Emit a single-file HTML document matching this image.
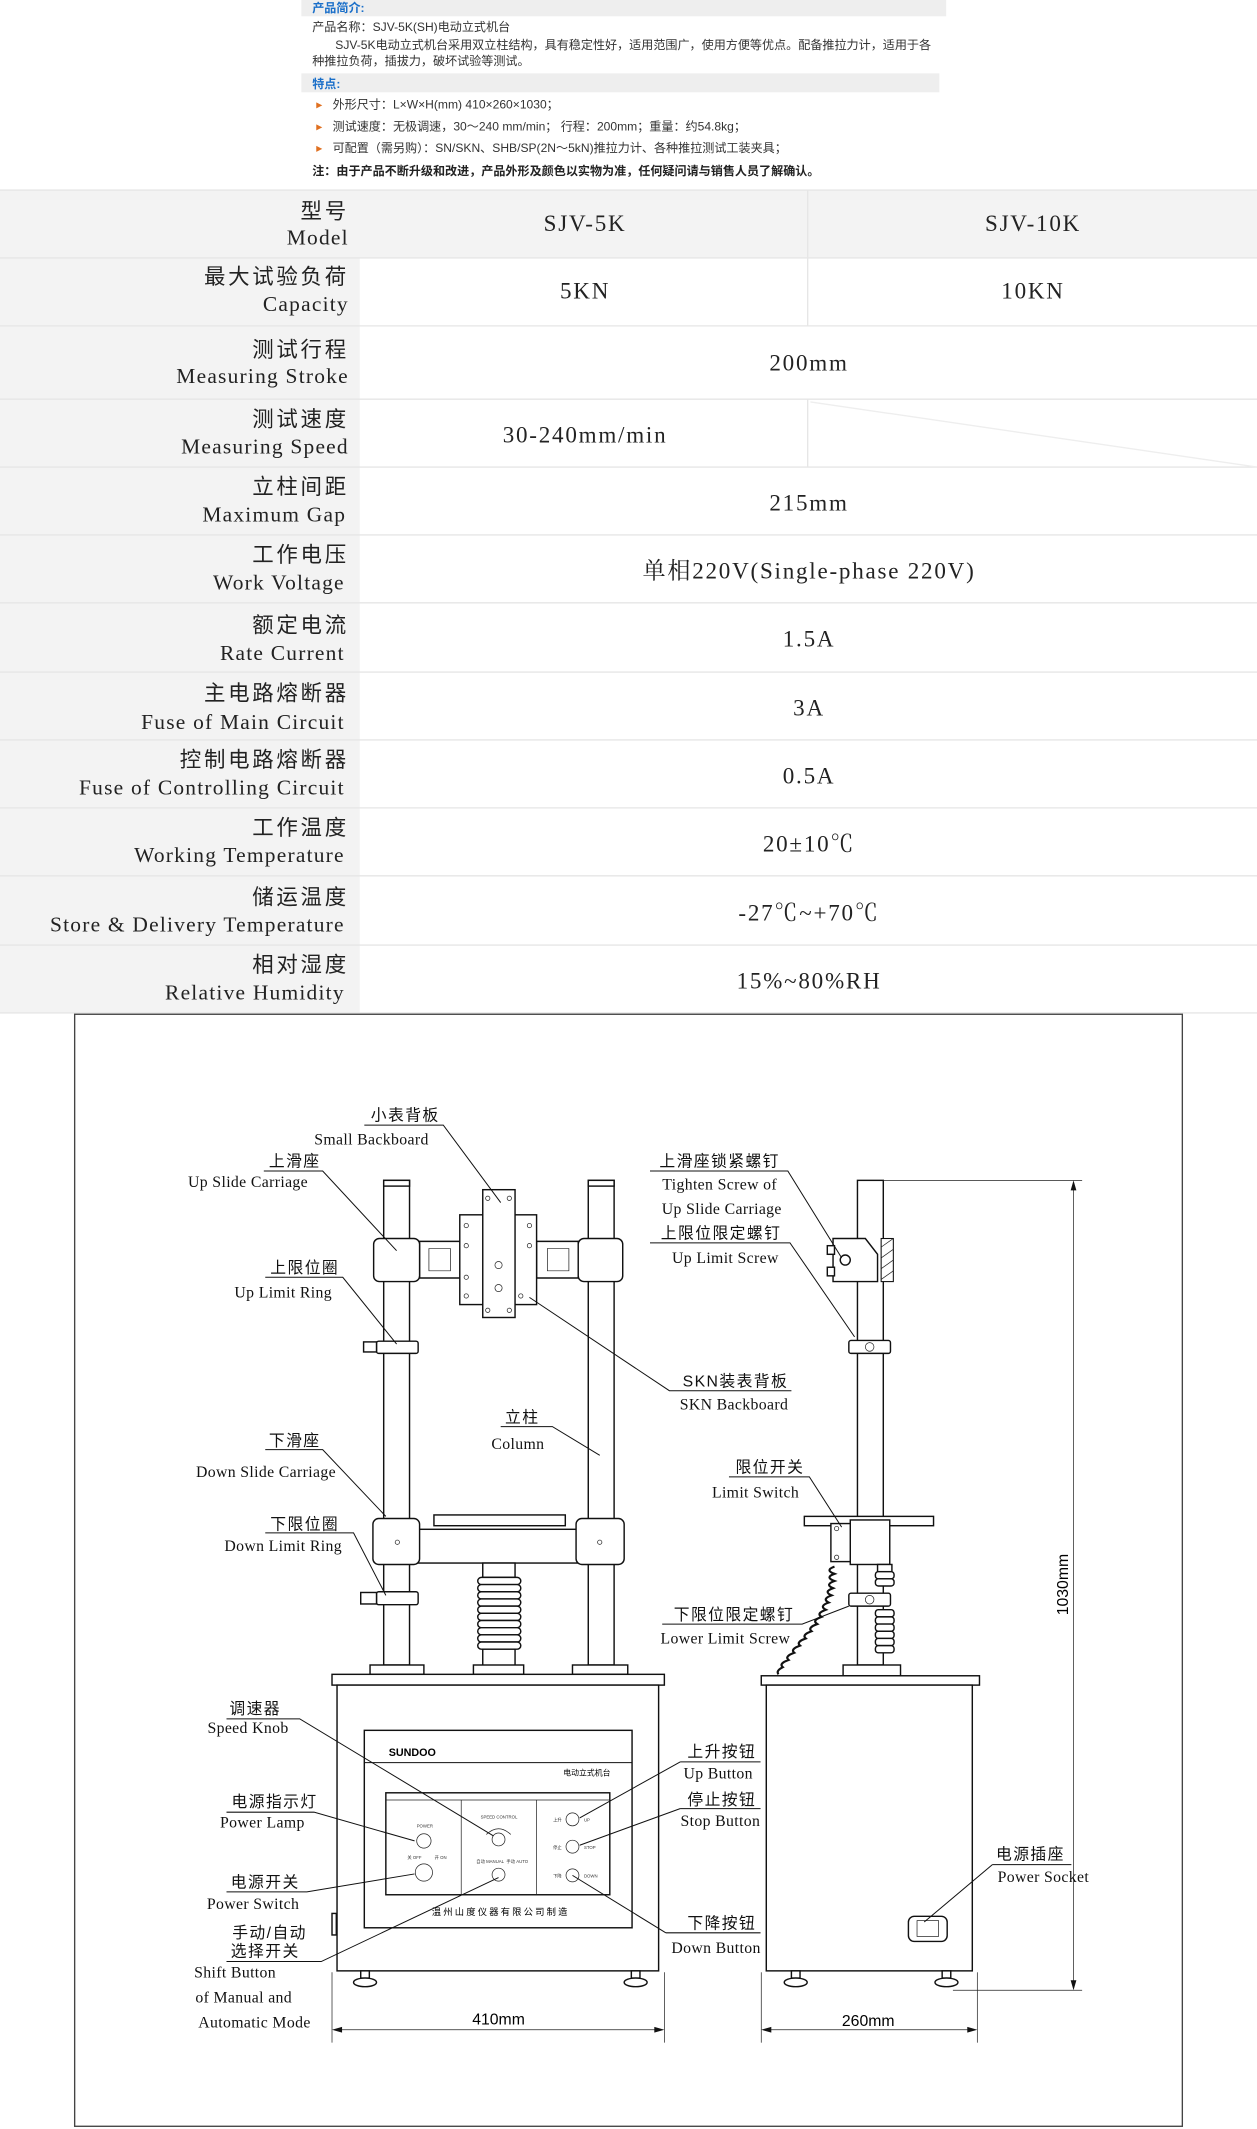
<!DOCTYPE html>
<html><head><meta charset="utf-8"><style>
html,body{margin:0;padding:0;background:#fff;}
svg{display:block;}
.h{font-family:"Liberation Sans","Noto Sans CJK SC",sans-serif;font-size:8.9px;fill:#333;}
.lc{font-family:"Liberation Serif","Noto Sans CJK SC",serif;font-size:15.8px;fill:#222;text-anchor:end;letter-spacing:0.9px;}
.lz{letter-spacing:2px;}
.v{font-family:"Liberation Serif","Noto Serif CJK SC",serif;font-size:17px;fill:#222;text-anchor:middle;letter-spacing:1.3px;}
.zc{font-family:"Liberation Sans","Noto Sans CJK SC",sans-serif;font-size:22px;fill:#111;text-anchor:middle;letter-spacing:2px;}
.ze{font-family:"Liberation Serif",serif;font-size:22px;fill:#111;text-anchor:middle;letter-spacing:0.5px;}
.ln{stroke:#111;stroke-width:1.4;fill:none;}
.d{stroke:#111;stroke-width:2;fill:#fff;}
.t{stroke:#222;stroke-width:1;fill:none;}
</style></head><body>
<svg width="1257" height="2129" viewBox="0 0 926 1568" preserveAspectRatio="none" xmlns="http://www.w3.org/2000/svg">
<rect width="926" height="1568" fill="#fff"/>
<rect x="222" y="0" width="475" height="12" fill="#eeeeee"/>
<text x="230" y="9" class="h" style="fill:#1a6fc9;font-weight:bold">产品简介:</text>
<text x="230" y="23" class="h">产品名称：SJV-5K(SH)电动立式机台</text>
<text x="247" y="36" class="h">SJV-5K电动立式机台采用双立柱结构，具有稳定性好，适用范围广，使用方便等优点。配备推拉力计，适用于各</text>
<text x="230" y="48" class="h">种推拉负荷，插拔力，破坏试验等测试。</text>
<rect x="222" y="54" width="470" height="14" fill="#eeeeee"/>
<text x="230" y="65" class="h" style="fill:#1a6fc9;font-weight:bold">特点:</text>
<g class="h"><text x="233" y="80" style="fill:#e07020">▸</text><text x="245" y="80">外形尺寸：L×W×H(mm) 410×260×1030；</text>
<text x="233" y="96" style="fill:#e07020">▸</text><text x="245" y="96">测试速度：无极调速，30～240 mm/min； 行程：200mm；重量：约54.8kg；</text>
<text x="233" y="112" style="fill:#e07020">▸</text><text x="245" y="112">可配置（需另购）：SN/SKN、SHB/SP(2N～5kN)推拉力计、各种推拉测试工装夹具；</text></g>
<text x="230" y="129" class="h" style="font-weight:bold;fill:#222">注：由于产品不断升级和改进，产品外形及颜色以实物为准，任何疑问请与销售人员了解确认。</text>
<rect x="0" y="140" width="926" height="50" fill="#f3f3f3"/>
<rect x="0" y="140" width="265" height="606" fill="#f3f3f3"/>
<g stroke="#e6e6e6" stroke-width="1">
<line x1="0" y1="140" x2="926" y2="140"/>
<line x1="0" y1="190" x2="926" y2="190"/><line x1="0" y1="240" x2="926" y2="240"/>
<line x1="0" y1="294" x2="926" y2="294"/><line x1="0" y1="344" x2="926" y2="344"/>
<line x1="0" y1="394" x2="926" y2="394"/><line x1="0" y1="444" x2="926" y2="444"/>
<line x1="0" y1="495" x2="926" y2="495"/><line x1="0" y1="545" x2="926" y2="545"/>
<line x1="0" y1="595" x2="926" y2="595"/><line x1="0" y1="645" x2="926" y2="645"/>
<line x1="0" y1="696" x2="926" y2="696"/><line x1="0" y1="746" x2="926" y2="746"/>
<line x1="595" y1="140" x2="595" y2="240"/><line x1="595" y1="294" x2="595" y2="344"/>
<line x1="597" y1="296" x2="926" y2="344" stroke="#eee"/>
</g>
<g class="lc">
<text x="257" y="161" class="lz">型号</text><text x="257" y="180">Model</text>
<text x="257" y="209" class="lz">最大试验负荷</text><text x="257" y="229">Capacity</text>
<text x="257" y="263" class="lz">测试行程</text><text x="257" y="282">Measuring Stroke</text>
<text x="257" y="314" class="lz">测试速度</text><text x="257" y="334">Measuring Speed</text>
<text x="257" y="364" class="lz">立柱间距</text><text x="255" y="384">Maximum Gap</text>
<text x="257" y="414" class="lz">工作电压</text><text x="254" y="434">Work Voltage</text>
<text x="257" y="466" class="lz">额定电流</text><text x="254" y="486">Rate Current</text>
<text x="257" y="516" class="lz">主电路熔断器</text><text x="254" y="537">Fuse of Main Circuit</text>
<text x="257" y="565" class="lz">控制电路熔断器</text><text x="254" y="585">Fuse of Controlling Circuit</text>
<text x="257" y="615" class="lz">工作温度</text><text x="254" y="635">Working Temperature</text>
<text x="257" y="666" class="lz">储运温度</text><text x="254" y="686">Store &amp; Delivery Temperature</text>
<text x="257" y="716" class="lz">相对湿度</text><text x="254" y="736">Relative Humidity</text>
</g>
<g class="v">
<text x="431" y="170">SJV-5K</text><text x="761" y="170">SJV-10K</text>
<text x="431" y="220">5KN</text><text x="761" y="220">10KN</text>
<text x="596" y="273">200mm</text>
<text x="431" y="326">30-240mm/min</text>
<text x="596" y="376">215mm</text>
<text x="596" y="426">单相220V(Single-phase 220V)</text>
<text x="596" y="476">1.5A</text>
<text x="596" y="527">3A</text>
<text x="596" y="577">0.5A</text>
<text x="596" y="627">20±10℃</text>
<text x="596" y="678">-27℃~+70℃</text>
<text x="596" y="728">15%~80%RH</text>
</g>
<rect x="55" y="747" width="816" height="819" fill="#fff" stroke="#444" stroke-width="1"/>
<g transform="translate(51.57,744) scale(0.5288)">
<rect x="437" y="237" width="36" height="675" class="d"/>
<rect x="722" y="237" width="36" height="675" class="d"/>
<rect x="437" y="237" width="36" height="8" class="d"/>
<rect x="722" y="237" width="36" height="8" class="d"/>
<path d="M487 322 H545 V373 H487 Z" class="d"/><path d="M500 332 H530 V363 H500 Z" class="t"/>
<path d="M650 322 H708 V373 H650 Z" class="d"/><path d="M665 332 H695 V363 H665 Z" class="t"/>
<rect x="543" y="285" width="107" height="125" class="d"/>
<rect x="575" y="250" width="45" height="178" class="d"/>
<g class="t"><circle cx="597" cy="355" r="5"/><circle cx="597" cy="387" r="5"/><circle cx="552" cy="300" r="3"/><circle cx="552" cy="328" r="3"/><circle cx="552" cy="372" r="3"/><circle cx="552" cy="398" r="3"/><circle cx="640" cy="300" r="3"/><circle cx="640" cy="328" r="3"/><circle cx="628" cy="398" r="3"/><circle cx="582" cy="262" r="3"/><circle cx="612" cy="262" r="3"/><circle cx="582" cy="418" r="3"/><circle cx="612" cy="418" r="3"/></g>
<rect x="423" y="318" width="64" height="60" rx="8" class="d"/>
<rect x="708" y="318" width="62" height="60" rx="8" class="d"/>
<rect x="427" y="461" width="58" height="17" rx="3" class="d"/><rect x="409" y="462" width="18" height="14" class="d"/>
<rect x="507" y="703" width="183" height="15" class="d"/>
<rect x="477" y="723" width="240" height="47" class="d"/>
<rect x="422" y="708" width="65" height="64" rx="8" class="d"/>
<rect x="705" y="708" width="67" height="64" rx="8" class="d"/>
<circle cx="456" cy="741" r="3" class="t"/><circle cx="738" cy="741" r="3" class="t"/>
<rect x="575" y="770" width="45" height="20" class="d"/>
<g class="d"><rect x="568" y="790" width="60" height="10" rx="5"/><rect x="568" y="800" width="60" height="10" rx="5"/><rect x="568" y="810" width="60" height="10" rx="5"/><rect x="568" y="820" width="60" height="10" rx="5"/><rect x="568" y="830" width="60" height="10" rx="5"/><rect x="568" y="840" width="60" height="10" rx="5"/><rect x="568" y="850" width="60" height="10" rx="5"/><rect x="568" y="860" width="60" height="10" rx="5"/><rect x="568" y="870" width="60" height="10" rx="5"/><rect x="568" y="880" width="60" height="10" rx="5"/></g>
<rect x="575" y="890" width="45" height="25" class="d"/>
<rect x="427" y="810" width="58" height="18" rx="3" class="d"/><rect x="405" y="811" width="22" height="16" class="d"/>
<rect x="418" y="912" width="75" height="13" class="d"/><rect x="700" y="912" width="77" height="13" class="d"/><rect x="562" y="912" width="70" height="13" class="d"/>
<rect x="365" y="925" width="463" height="15" class="d"/>
<rect x="372" y="940" width="448" height="398" class="d"/>
<g class="d"><rect x="405" y="1338" width="12" height="10"/><ellipse cx="411" cy="1354" rx="16" ry="6"/><rect x="782" y="1338" width="12" height="10"/><ellipse cx="788" cy="1354" rx="16" ry="6"/></g>
<rect x="365" y="1258" width="6" height="30" class="d"/>
<rect x="410" y="1003" width="373" height="275" class="d"/>
<line x1="410" y1="1048" x2="783" y2="1048" class="ln"/>
<text x="444" y="1039" style="font-family:'Liberation Sans',sans-serif;font-weight:bold;font-size:15px">SUNDOO</text>
<text x="720" y="1066" style="font-family:'Noto Sans CJK SC',sans-serif;font-size:11px" text-anchor="middle">电动立式机台</text>
<rect x="440" y="1090" width="312" height="142" class="d"/>
<line x1="440" y1="1100" x2="752" y2="1100" class="t"/>
<line x1="545" y1="1100" x2="545" y2="1232" class="t"/><line x1="650" y1="1100" x2="650" y2="1232" class="t"/>
<g class="t"><circle cx="493" cy="1157" r="10"/><circle cx="493" cy="1201" r="12"/><circle cx="597" cy="1155" r="9"/><circle cx="597" cy="1204" r="9"/><circle cx="700" cy="1127" r="9"/><circle cx="700" cy="1165" r="9"/><circle cx="700" cy="1205" r="9"/><path d="M580 1148 Q597 1132 614 1148"/></g>
<g style="font-family:'Liberation Sans','Noto Sans CJK SC',sans-serif;font-size:6px;fill:#333">
<text x="483" y="1138">POWER</text><text x="470" y="1182">关 OFF</text><text x="508" y="1182">开 ON</text>
<text x="572" y="1126">SPEED CONTROL</text><text x="566" y="1188">自动 MANUAL</text><text x="608" y="1188">手动 AUTO</text>
<text x="673" y="1130">上升</text><text x="716" y="1130">UP</text><text x="673" y="1168">停止</text><text x="716" y="1168">STOP</text><text x="673" y="1208">下降</text><text x="716" y="1208">DOWN</text></g>
<text x="600" y="1260" style="font-family:'Noto Sans CJK SC',sans-serif;font-size:13px;letter-spacing:3px" text-anchor="middle">温州山度仪器有限公司制造</text>
<line x1="365" y1="1340" x2="365" y2="1438" class="t"/><line x1="828" y1="1340" x2="828" y2="1438" class="t"/>
<line x1="370" y1="1420" x2="823" y2="1420" class="t"/>
<path d="M365 1420 l14 -4 v8 z M828 1420 l-14 -4 v8 z" fill="#111"/>
<text x="597" y="1413" style="font-family:'Liberation Sans',sans-serif;font-size:22px" text-anchor="middle">410mm</text>
<rect x="1097" y="237" width="36" height="675" class="d"/>
<path d="M1063 318 H1108 L1125 340 V378 H1063 Z" class="d"/>
<rect x="1130" y="318" width="17" height="60" fill="#fff" stroke="#111" stroke-width="1.5"/>
<path d="M1130 330 l17 -12 M1130 345 l17 -12 M1130 360 l17 -12 M1130 375 l17 -12" class="t"/>
<circle cx="1080" cy="348" r="7" class="d"/><rect x="1055" y="328" width="10" height="12" class="d"/><rect x="1055" y="358" width="10" height="12" class="d"/>
<rect x="1085" y="460" width="58" height="18" rx="3" class="d"/><circle cx="1114" cy="469" r="6" class="t"/>
<rect x="1023" y="705" width="180" height="13" class="d"/>
<rect x="1087" y="710" width="55" height="62" class="d"/>
<rect x="1060" y="715" width="27" height="53" class="d"/>
<circle cx="1068" cy="722" r="3" class="t"/><circle cx="1068" cy="762" r="3" class="t"/>
<path d="M1065 775 q-14 5 0 10 q-14 5 0 10 q-14 5 -2 10 q-14 5 -2 10 q-14 5 -4 10 q-14 5 -4 10 q-14 5 -6 10 q-14 5 -6 10 q-14 5 -8 10 q-14 5 -8 10 q-14 5 -8 10 q-14 5 -8 10 q-14 5 -8 10 q-14 5 -8 10 q-10 5 -6 10" stroke="#111" stroke-width="3" fill="none"/>
<g class="d"><rect x="1125" y="772" width="20" height="10"/><rect x="1122" y="782" width="26" height="10" rx="4"/><rect x="1122" y="792" width="26" height="10" rx="4"/><rect x="1122" y="835" width="26" height="10" rx="4"/><rect x="1122" y="845" width="26" height="10" rx="4"/><rect x="1122" y="855" width="26" height="10" rx="4"/><rect x="1122" y="865" width="26" height="10" rx="4"/><rect x="1122" y="875" width="26" height="10" rx="4"/><rect x="1122" y="885" width="26" height="10" rx="4"/></g>
<rect x="1085" y="812" width="58" height="18" rx="3" class="d"/><circle cx="1114" cy="821" r="6" class="t"/>
<rect x="1077" y="912" width="80" height="15" class="d"/>
<rect x="963" y="927" width="304" height="13" class="d"/>
<rect x="970" y="940" width="287" height="398" class="d"/>
<g class="d"><rect x="1005" y="1338" width="12" height="10"/><ellipse cx="1011" cy="1354" rx="16" ry="6"/><rect x="1215" y="1338" width="12" height="10"/><ellipse cx="1221" cy="1354" rx="16" ry="6"/></g>
<rect x="1168" y="1262" width="54" height="35" rx="8" class="d"/><rect x="1180" y="1268" width="30" height="22" class="t"/>
<line x1="963" y1="1340" x2="963" y2="1438" class="t"/><line x1="1264" y1="1340" x2="1264" y2="1438" class="t"/>
<line x1="968" y1="1420" x2="1259" y2="1420" class="t"/>
<path d="M963 1420 l14 -4 v8 z M1264 1420 l-14 -4 v8 z" fill="#111"/>
<text x="1112" y="1415" style="font-family:'Liberation Sans',sans-serif;font-size:22px" text-anchor="middle">260mm</text>
<line x1="1133" y1="237" x2="1410" y2="237" class="t"/><line x1="1230" y1="1365" x2="1410" y2="1365" class="t"/>
<line x1="1398" y1="242" x2="1398" y2="1360" class="t"/>
<path d="M1398 237 l-4 14 h8 z M1398 1365 l-4 -14 h8 z" fill="#111"/>
<text transform="translate(1390,800) rotate(-90)" style="font-family:'Liberation Sans',sans-serif;font-size:22px" text-anchor="middle">1030mm</text>
<g class="ln">
<path d="M410 160 H520 L600 268"/>
<path d="M270 224 H352 L455 335"/>
<path d="M272 372 H380 L455 465"/>
<path d="M272 612 H352 L440 705"/>
<path d="M272 728 H395 L440 815"/>
<path d="M600 580 H672 L738 620"/>
<path d="M1005 530 H835 L640 400"/>
<path d="M808 224 H1000 L1075 345"/>
<path d="M808 324 H1003 L1093 455"/>
<path d="M918 650 H1030 L1075 720"/>
<path d="M825 855 H1020 L1085 830"/>
<path d="M218 987 H320 L590 1150"/>
<path d="M218 1117 H340 L480 1157"/>
<path d="M218 1228 H330 L480 1203"/>
<path d="M218 1325 H350 L597 1208"/>
<path d="M850 1047 H962 M850 1047 L710 1125"/>
<path d="M850 1112 H962 M850 1112 L710 1163"/>
<path d="M830 1285 H962 M830 1285 L700 1205"/>
<path d="M1285 1190 H1395 M1285 1190 L1190 1270"/>
</g>
<g class="zc">
<text x="467" y="154">小表背板</text><text x="313" y="218">上滑座</text><text x="327" y="366">上限位圈</text>
<text x="313" y="607">下滑座</text><text x="327" y="723">下限位圈</text><text x="630" y="574">立柱</text>
<text x="927" y="524">SKN装表背板</text><text x="905" y="218">上滑座锁紧螺钉</text><text x="907" y="318">上限位限定螺钉</text>
<text x="975" y="644">限位开关</text><text x="925" y="849">下限位限定螺钉</text>
<text x="258" y="980">调速器</text><text x="285" y="1110">电源指示灯</text><text x="272" y="1222">电源开关</text>
<text x="278" y="1292">手动/自动</text><text x="272" y="1318">选择开关</text>
<text x="908" y="1040">上升按钮</text><text x="908" y="1107">停止按钮</text><text x="908" y="1279">下降按钮</text><text x="1338" y="1183">电源插座</text>
</g>
<g class="ze">
<text x="420" y="187">Small Backboard</text><text x="248" y="246">Up Slide Carriage</text><text x="297" y="400">Up Limit Ring</text>
<text x="273" y="650">Down Slide Carriage</text><text x="297" y="753">Down Limit Ring</text><text x="624" y="611">Column</text>
<text x="925" y="556">SKN Backboard</text><text x="905" y="250">Tighten Screw of</text><text x="908" y="284">Up Slide Carriage</text>
<text x="913" y="352">Up Limit Screw</text><text x="955" y="679">Limit Switch</text><text x="913" y="882">Lower Limit Screw</text>
<text x="248" y="1007">Speed Knob</text><text x="268" y="1138">Power Lamp</text><text x="255" y="1252">Power Switch</text>
<text x="230" y="1347">Shift Button</text><text x="242" y="1382">of Manual and</text><text x="257" y="1417">Automatic Mode</text>
<text x="903" y="1070">Up Button</text><text x="906" y="1136">Stop Button</text><text x="900" y="1313">Down Button</text><text x="1356" y="1214">Power Socket</text>
</g>
</g>
</svg>
</body></html>
